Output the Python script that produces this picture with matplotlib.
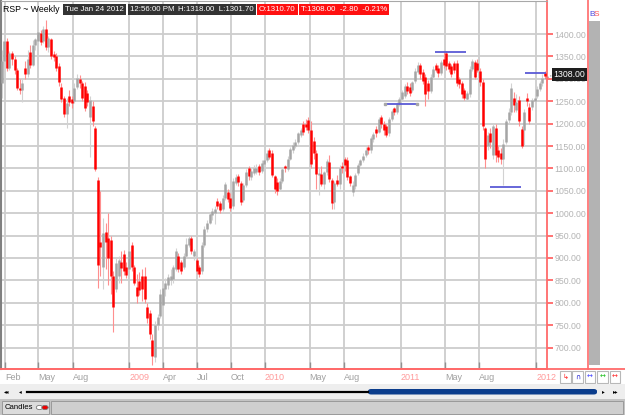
import numpy as np
import matplotlib
matplotlib.use("Agg")
import matplotlib.pyplot as plt
import matplotlib.dates as mdates
from matplotlib.patches import Rectangle, Circle, FancyBboxPatch
from matplotlib.lines import Line2D
from datetime import datetime

plt.rcParams['font.family'] = ['Liberation Sans', 'DejaVu Sans']

# weekly bars, Jan 2008 - Jan 2012
first_week = np.datetime64('2008-01-23')
opens = [1290, 1340, 1385, 1325, 1358, 1345, 1320, 1280, 1276, 1325,
         1310, 1360, 1330, 1375, 1385, 1402, 1385, 1412, 1370, 1388,
         1355, 1350, 1328, 1282, 1258, 1222, 1262, 1255, 1250, 1282,
         1300, 1290, 1285, 1268, 1215, 1240, 1190, 1075, 935, 880,
         958, 945, 940, 860, 830, 860, 892, 910, 880, 875,
         930, 880, 835, 848, 860, 860, 790, 778, 718, 680,
         750, 770, 795, 830, 840, 850, 852, 875, 905, 890,
         880, 905, 930, 945, 905, 895, 880, 870, 930, 965,
         978, 995, 1000, 1028, 1022, 1010, 1035, 1048, 1035, 1015,
         1068, 1082, 1068, 1030, 1062, 1100, 1080, 1090, 1095, 1105,
         1095, 1110, 1118, 1140, 1135, 1082, 1070, 1055, 1072, 1105,
         1098, 1120, 1140, 1150, 1160, 1175, 1200, 1200, 1208, 1185,
         1162, 1135, 1085, 1088, 1065, 1092, 1115, 1075, 1025, 1075,
         1065, 1105, 1120, 1118, 1082, 1048, 1060, 1090, 1108, 1118,
         1130, 1148, 1140, 1165, 1187, 1182, 1215, 1200, 1195, 1178,
         1210, 1235, 1226, 1243, 1255, 1262, 1285, 1282, 1275, 1295,
         1315, 1330, 1315, 1305, 1290, 1272, 1305, 1330, 1325, 1312,
         1345, 1358, 1335, 1328, 1335, 1335, 1300, 1290, 1275, 1255,
         1265, 1322, 1338, 1335, 1318, 1292, 1190, 1150, 1178, 1130,
         1190, 1140, 1135, 1120, 1160, 1208, 1225, 1258, 1230, 1252,
         1188, 1185, 1258, 1238, 1238, 1250, 1262, 1278, 1290, 1310.7]
highs = [1365, 1390, 1390, 1362, 1362, 1350, 1325, 1300, 1300, 1340,
         1364, 1375, 1387, 1392, 1410, 1410, 1418, 1431, 1395, 1392,
         1362, 1358, 1335, 1290, 1262, 1258, 1275, 1262, 1290, 1310,
         1308, 1295, 1292, 1275, 1262, 1250, 1195, 1080, 1050, 990,
         978, 1000, 950, 870, 900, 905, 915, 918, 890, 920,
         935, 885, 865, 868, 875, 880, 800, 785, 730, 760,
         775, 830, 840, 855, 865, 875, 885, 922, 912, 895,
         912, 945, 950, 948, 920, 900, 885, 935, 972, 985,
         1002, 1012, 1015, 1035, 1028, 1040, 1070, 1055, 1045, 1078,
         1088, 1088, 1072, 1068, 1098, 1105, 1102, 1108, 1110, 1110,
         1118, 1122, 1142, 1145, 1140, 1085, 1078, 1078, 1102, 1108,
         1128, 1148, 1158, 1165, 1182, 1190, 1205, 1210, 1215, 1205,
         1170, 1140, 1100, 1105, 1095, 1120, 1130, 1078, 1072, 1085,
         1108, 1115, 1125, 1125, 1085, 1072, 1090, 1112, 1122, 1135,
         1148, 1152, 1172, 1182, 1195, 1215, 1220, 1205, 1200, 1215,
         1232, 1238, 1248, 1260, 1275, 1288, 1292, 1290, 1296, 1325,
         1338, 1335, 1322, 1310, 1298, 1310, 1328, 1335, 1330, 1342,
         1360, 1362, 1340, 1332, 1340, 1342, 1305, 1295, 1280, 1272,
         1328, 1345, 1342, 1345, 1325, 1300, 1192, 1182, 1190, 1200,
         1200, 1150, 1145, 1165, 1210, 1235, 1290, 1270, 1265, 1262,
         1195, 1232, 1268, 1245, 1258, 1265, 1285, 1295, 1310, 1318]
lows = [1257, 1335, 1318, 1320, 1330, 1310, 1275, 1265, 1248, 1300,
        1304, 1324, 1328, 1365, 1380, 1375, 1380, 1365, 1360, 1345,
        1340, 1318, 1285, 1248, 1215, 1190, 1240, 1235, 1245, 1278,
        1280, 1250, 1228, 1240, 1125, 1195, 1095, 832, 860, 830,
        875, 840, 820, 735, 825, 845, 845, 862, 855, 870,
        870, 840, 800, 818, 805, 800, 755, 720, 662, 668,
        740, 765, 790, 815, 830, 840, 845, 870, 868, 865,
        875, 900, 925, 910, 895, 865, 858, 865, 925, 958,
        975, 985, 975, 1010, 1000, 1005, 1030, 1025, 1005, 1010,
        1062, 1060, 1018, 1025, 1058, 1075, 1075, 1085, 1088, 1085,
        1090, 1105, 1115, 1120, 1080, 1045, 1040, 1050, 1068, 1092,
        1095, 1118, 1135, 1145, 1155, 1170, 1175, 1185, 1180, 1100,
        1120, 1055, 1040, 1060, 1055, 1085, 1070, 1010, 1010, 1060,
        1055, 1090, 1095, 1075, 1060, 1038, 1055, 1085, 1105, 1115,
        1125, 1132, 1135, 1160, 1170, 1178, 1190, 1175, 1170, 1172,
        1205, 1220, 1222, 1240, 1250, 1258, 1265, 1262, 1270, 1290,
        1310, 1300, 1288, 1240, 1255, 1268, 1300, 1315, 1305, 1308,
        1325, 1320, 1315, 1305, 1312, 1285, 1280, 1258, 1252, 1250,
        1260, 1318, 1300, 1315, 1285, 1185, 1100, 1140, 1145, 1120,
        1115, 1115, 1110, 1063, 1155, 1200, 1220, 1225, 1225, 1195,
        1145, 1150, 1240, 1200, 1230, 1245, 1258, 1272, 1285, 1301.7]
closes = [1340, 1385, 1325, 1358, 1345, 1320, 1280, 1276, 1290, 1310,
          1345, 1330, 1375, 1388, 1405, 1382, 1412, 1370, 1390, 1352,
          1348, 1325, 1292, 1255, 1222, 1245, 1248, 1245, 1280, 1302,
          1290, 1258, 1235, 1248, 1252, 1205, 1098, 885, 925, 955,
          935, 900, 860, 790, 888, 895, 878, 870, 862, 915,
          880, 845, 815, 828, 830, 808, 765, 730, 682, 750,
          768, 820, 833, 845, 858, 860, 880, 915, 875, 872,
          905, 932, 945, 915, 915, 870, 865, 930, 965, 978,
          998, 1005, 1010, 1015, 1008, 1035, 1065, 1032, 1012, 1072,
          1080, 1070, 1025, 1062, 1092, 1082, 1095, 1102, 1098, 1092,
          1112, 1118, 1135, 1125, 1085, 1055, 1050, 1072, 1098, 1100,
          1122, 1143, 1152, 1160, 1178, 1185, 1182, 1192, 1185, 1110,
          1135, 1088, 1090, 1065, 1092, 1117, 1076, 1022, 1068, 1065,
          1102, 1100, 1108, 1080, 1068, 1064, 1085, 1108, 1118, 1128,
          1142, 1140, 1168, 1176, 1178, 1210, 1200, 1185, 1175, 1210,
          1228, 1225, 1243, 1255, 1270, 1283, 1272, 1268, 1292, 1318,
          1330, 1310, 1295, 1265, 1272, 1305, 1322, 1320, 1312, 1337,
          1330, 1328, 1322, 1310, 1320, 1290, 1288, 1265, 1258, 1268,
          1322, 1340, 1305, 1320, 1292, 1195, 1120, 1175, 1160, 1195,
          1130, 1125, 1122, 1155, 1205, 1225, 1280, 1242, 1248, 1205,
          1150, 1225, 1250, 1205, 1252, 1258, 1278, 1290, 1302, 1308]

# horizontal levels drawn on the chart
level_prices = [1244, 1359, 1059, 1312]
level_starts = ['2010-11-20', '2011-04-03', '2011-08-29', '2011-12-02']
level_ends = ['2011-02-14', '2011-06-26', '2011-11-21', '2012-01-27']

yticks = list(range(700, 1401, 50))
xtick_dates = ['2008-02-01', '2008-05-01', '2008-08-01', '2009-01-01', '2009-04-01',
               '2009-07-01', '2009-10-01', '2010-01-01', '2010-05-01', '2010-08-01',
               '2011-01-01', '2011-05-01', '2011-08-01', '2012-01-01']
xtick_labels = ['Feb', 'May', 'Aug', '2009', 'Apr', 'Jul', 'Oct', '2010', 'May', 'Aug',
                '2011', 'May', 'Aug', '2012']

W, H = 625, 415
fig = plt.figure(figsize=(6.25, 4.15), dpi=100)


def frect(x0, y0, x1, y1, **kw):
    fig.add_artist(Rectangle((x0 / W, 1 - y1 / H), (x1 - x0) / W, (y1 - y0) / H,
                             transform=fig.transFigure, **kw))


def fline(xs, ys, **kw):
    fig.add_artist(Line2D([x / W for x in xs], [1 - y / H for y in ys],
                          transform=fig.transFigure, **kw))


def ftext(x, y, s, **kw):
    return fig.text(x / W, 1 - y / H, s, **kw)


ax = fig.add_axes([1 / W, 1 - 369 / H, 546 / W, 368 / H])
ax.set_ylim(652.2, 1473.7)
ax.set_xlim(mdates.date2num(datetime(2008, 1, 21, 5)), mdates.date2num(datetime(2012, 1, 30, 7)))

dates = mdates.date2num(first_week + np.arange(len(closes)) * np.timedelta64(7, 'D'))
o = np.array(opens, float)
h = np.array(highs, float)
l = np.array(lows, float)
c = np.array(closes, float)
down = c < o
body_lo = np.minimum(o, c)
body_hi = np.maximum(o, c)
thin = (body_hi - body_lo) < 4
body_lo[thin] -= 2
body_hi[thin] += 2

wick_col = np.where(down, '#ff8f8f', '#d2d2d2')
body_col = np.where(down, '#ff0000', '#a5a5a5')
ax.vlines(dates, l, h, colors=list(wick_col), lw=0.8, zorder=3)
ax.vlines(dates, body_lo, body_hi, colors=list(body_col), lw=1.8, zorder=4)

for p, s, e in zip(level_prices, level_starts, level_ends):
    ax.hlines(p, mdates.date2num(np.datetime64(s)), mdates.date2num(np.datetime64(e)),
              colors='#5a5ad6', lw=1.3, zorder=5)
ax.plot([mdates.date2num(np.datetime64(level_starts[0])), mdates.date2num(np.datetime64(level_ends[0]))],
        [level_prices[0]] * 2, 's', ms=1.8, color='#a8a8a8', zorder=6)

ax.set_yticks(yticks)
ax.set_yticklabels([f"{v:.2f}" for v in yticks])
ax.yaxis.tick_right()
ax.tick_params(axis='y', direction='out', length=4, width=1.2, color='#ff5a5a',
               labelcolor='#b4b4b4', labelsize=6.3, pad=1.5)

xt = [mdates.date2num(np.datetime64(d)) for d in xtick_dates]
ax.set_xticks(xt)
ax.set_xticklabels(xtick_labels)
ax.tick_params(axis='x', direction='in', length=5, width=1, color='#909090',
               labelsize=6.5, pad=3)
for lab in ax.get_xticklabels():
    lab.set_ha('left')
    lab.set_color('#ff9a9a' if lab.get_text().isdigit() else '#a0a0a0')

ax.grid(True, color='#cdcdcd', lw=1.3, zorder=0)
ax.set_axisbelow(True)
ax.spines['right'].set_color('#ff6a6a')
ax.spines['right'].set_linewidth(1.3)
ax.spines['bottom'].set_color('#ff6a6a')
ax.spines['bottom'].set_linewidth(1.3)
ax.spines['top'].set_color('#a8a8a8')
ax.spines['left'].set_color('#808080')
ax.spines['left'].set_linewidth(1.5)

# last price tag (sits over the 1300 label as in the original)
ax.plot([dates[-1], mdates.date2num(datetime(2012, 2, 18))], [closes[-1] - 8, closes[-1] + 2],
        ls=':', color='#888888', lw=0.8, clip_on=False)
ftext(553.5, 74.5, "1308.00", fontsize=6.3, color='white', va='center', ha='left',
      zorder=10, bbox=dict(boxstyle='square,pad=0.2', fc='#1e1e1e', ec='none'))

# header
ftext(3, 9.5, "RSP ~ Weekly", fontsize=6.3, color='black', va='center', ha='left')
dark = dict(boxstyle='square,pad=0.28', fc='#333333', ec='none')
redb = dict(boxstyle='square,pad=0.28', fc='#ff1010', ec='none')
hdr_fs = 5.7
ftext(65, 9.5, "Tue Jan 24 2012", fontsize=hdr_fs, color='white', va='center', bbox=dark)
ftext(130, 9.5, "12:56:00 PM", fontsize=hdr_fs, color='white', va='center', bbox=dark)
ftext(178, 9.5, "H:1318.00  L:1301.70", fontsize=hdr_fs, color='white', va='center', bbox=dark)
ftext(259, 9.5, "O:1310.70", fontsize=hdr_fs, color='white', va='center', bbox=redb)
ftext(301, 9.5, "T:1308.00  -2.80  -0.21%", fontsize=hdr_fs, color='white', va='center', bbox=redb)

# right side strip
fline([588, 588], [0, 369], color='#ff6a6a', lw=1.2)
frect(589, 21, 600, 365, fc='#b3b3b3', ec='none')
ftext(589, 14.5, "B", fontsize=6, color='#4a4ae0', va='center')
ftext(594, 14.5, "S", fontsize=6, color='#ff5050', va='center')
fline([0, 625], [369, 369], color='#ff6a6a', lw=1.3)

# small buttons
btn_cols = ['#ff2020', '#2020d0', '#4a4aff', '#20c020', '#ff3030']
btn_glyph = ['\u21b3', '\u2229', '\u2194', '\u2194', '\u2194']
for i, (bc, g) in enumerate(zip(btn_cols, btn_glyph)):
    x0 = 560 + i * 12.4
    frect(x0, 370.5, x0 + 10.5, 382.5, fc='white', ec='#b8b8b8', lw=0.8)
    ftext(x0 + 5.2, 376.5, g, fontsize=5, color=bc, ha='center', va='center',
          family='DejaVu Sans')

# scrollbar
frect(0, 384, 625, 399, fc='#eeeeee', ec='none')
fline([27, 368], [391.5, 391.5], color='black', lw=1.6)
fig.add_artist(FancyBboxPatch((368 / W, 1 - 394.5 / H), 229 / W, 5.5 / H,
               boxstyle='round,pad=0,rounding_size=0.005', transform=fig.transFigure,
               fc='#0b3d8c', ec='none'))
for xx, s in [(7, "\u25c2\u25c2"), (20, "\u25c2"), (603, "\u25b8"), (616, "\u25b8\u25b8")]:
    ftext(xx, 391.5, s, fontsize=4, color='black', ha='center', va='center',
          family='DejaVu Sans')

# bottom status bar
frect(0, 399, 625, 415, fc='#c4c4c4', ec='none')
frect(2, 401, 49, 414, fc='#dcdcdc', ec='#9a9a9a', lw=0.7)
frect(51, 401, 623, 414, fc='#cfcfcf', ec='#9a9a9a', lw=0.7)
ftext(4.5, 407.5, "Candles", fontsize=5.6, color='black', va='center')
fig.add_artist(Circle((39.5 / W, 1 - 407.5 / H), 3.2 / W, transform=fig.transFigure,
                      fc='white', ec='#777777', lw=0.6))
fig.add_artist(Circle((45 / W, 1 - 407.5 / H), 3.2 / W, transform=fig.transFigure,
                      fc='#ee0000', ec='#777777', lw=0.6))

fig.savefig("out.png", dpi=100)
